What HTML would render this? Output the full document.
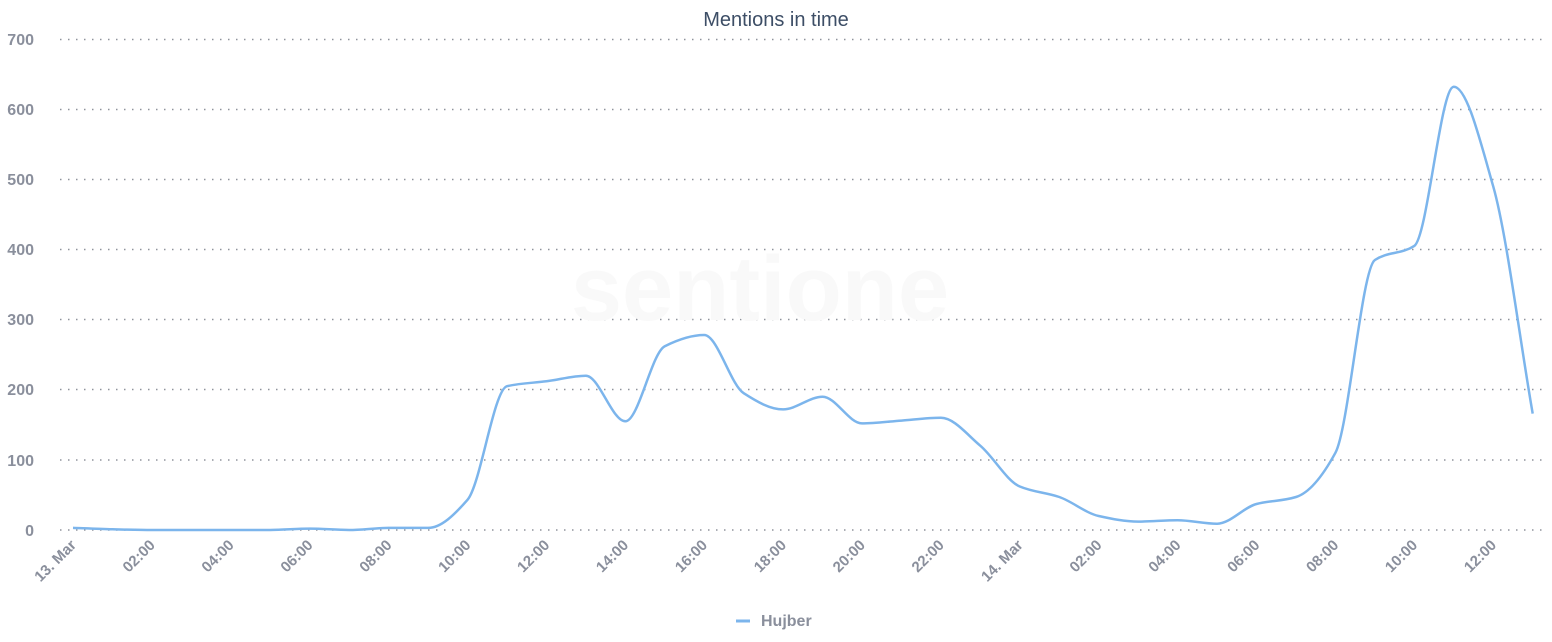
<!DOCTYPE html>
<html><head><meta charset="utf-8"><style>
html,body{margin:0;padding:0;background:#fff;}
svg{display:block;font-family:"Liberation Sans",sans-serif;}
</style></head><body>
<svg id="c" width="1552" height="642" viewBox="0 0 1552 642" xmlns="http://www.w3.org/2000/svg">
<text x="776" y="26" text-anchor="middle" font-size="20" fill="#3d4e66">Mentions in time</text>
<g font-size="16" font-weight="bold" fill="#8a8f9c" text-anchor="end">
<text x="34" y="45">700</text><text x="34" y="115">600</text><text x="34" y="185">500</text>
<text x="34" y="255">400</text><text x="34" y="325">300</text><text x="34" y="395">200</text>
<text x="34" y="466">100</text><text x="34" y="536">0</text>
</g>
<g stroke="#8f939c" stroke-width="1.5" stroke-dasharray="1.5 6.5">
<line x1="60" x2="1548" y1="39.5" y2="39.5"/><line x1="60" x2="1548" y1="109.5" y2="109.5"/>
<line x1="60" x2="1548" y1="179.5" y2="179.5"/><line x1="60" x2="1548" y1="249.5" y2="249.5"/>
<line x1="60" x2="1548" y1="319.5" y2="319.5"/><line x1="60" x2="1548" y1="389.5" y2="389.5"/>
<line x1="60" x2="1548" y1="460" y2="460"/><line x1="60" x2="1548" y1="530" y2="530"/>
</g>
<text x="760" y="320" text-anchor="middle" font-size="92" font-weight="bold" fill="#f9f9f9">sentione</text>
<g id="xl" font-size="15" font-weight="bold" fill="#8a8f9c" text-anchor="end"></g>
<path id="ln" fill="none" stroke="#7cb5ec" stroke-width="2.5"/>
<line x1="736" x2="750" y1="621" y2="621" stroke="#7cb5ec" stroke-width="3"/>
<text x="761" y="626" font-size="16" font-weight="bold" fill="#8a8f9c">Hujber</text>
</svg>
<script>
var d=[3,1,0,0,0,0,2,0,3,3,43,205,212,220,155,262,278,195,172,190,152,156,160,120,62,47,20,12,14,9,37,47,110,385,405,632,490,166];
var x0=73,dx=39.45,y0=530,k=0.7014;
var n=d.length,X=[],Y=[];
for(var i=0;i<n;i++){X.push(x0+i*dx);Y.push(y0-d[i]*k);}
var m=[],del=[];
for(var i=0;i<n-1;i++)del.push((Y[i+1]-Y[i])/dx);
m[0]=del[0];m[n-1]=del[n-2];
for(var i=1;i<n-1;i++){
 if(del[i-1]*del[i]<=0)m[i]=0;
 else m[i]=2/(1/del[i-1]+1/del[i]);
}
var s="M"+X[0].toFixed(1)+","+Y[0].toFixed(1);
for(var i=0;i<n-1;i++){
 var h=dx/3;
 s+=" C"+(X[i]+h).toFixed(1)+","+(Y[i]+m[i]*h).toFixed(1)+" "+(X[i+1]-h).toFixed(1)+","+(Y[i+1]-m[i+1]*h).toFixed(1)+" "+X[i+1].toFixed(1)+","+Y[i+1].toFixed(1);
}
document.getElementById("ln").setAttribute("d",s);
var L=["13. Mar","02:00","04:00","06:00","08:00","10:00","12:00","14:00","16:00","18:00","20:00","22:00","14. Mar","02:00","04:00","06:00","08:00","10:00","12:00"];
var g=document.getElementById("xl"),hh="";
L.forEach(function(t,i){var x=x0+4+i*2*dx,y=546;hh+='<text transform="translate('+x.toFixed(1)+','+y+') rotate(-45)">'+t+'</text>';});
g.innerHTML=hh;
</script>
</body></html>
